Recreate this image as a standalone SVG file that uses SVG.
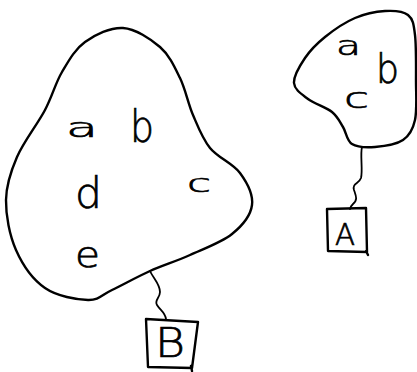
<svg xmlns="http://www.w3.org/2000/svg" width="417" height="372" viewBox="0 0 417 372">
<style>
.ln{fill:none;stroke:#000;stroke-width:2.4;stroke-linecap:round;stroke-linejoin:round}
.wg{fill:none;stroke:#000;stroke-width:1.8;stroke-linecap:round;stroke-linejoin:round}
.t{font-family:"DejaVu Sans","Liberation Sans",sans-serif;font-weight:200;fill:#000;stroke:#000;stroke-width:0.7}
</style>
<rect width="417" height="372" fill="#fff"/>
<g id="set-big">
<path class="ln" d="M123,28 C135.5,28.8 150.5,38.7 160,47 C169.5,55.3 174.5,66.7 180,78 C185.5,89.3 188,103.3 193,115 C198,126.7 202.2,138.3 210,148 C217.8,157.7 233,163.5 240,173 C247,182.5 253.3,194.8 252,205 C250.7,215.2 242.3,225.7 232,234 C221.7,242.3 203.7,248.8 190,255 C176.3,261.2 163,265.2 150,271 C137,276.8 122.3,285.2 112,290 C101.7,294.8 99.2,300.3 88,300 C76.8,299.7 57,296.3 45,288 C33,279.7 22.5,264.7 16,250 C9.5,235.3 5.8,215.5 6,200 C6.2,184.5 10.5,172 17,157 C23.5,142 37.5,124.2 45,110 C52.5,95.8 55.3,83.3 62,72 C68.7,60.7 74.8,49.3 85,42 C95.2,34.7 110.5,27.2 123,28 Z"/>
<text class="t" x="66" y="137" font-size="27" textLength="32" lengthAdjust="spacingAndGlyphs">a</text>
<text class="t" x="130" y="142" font-size="44" textLength="24" lengthAdjust="spacingAndGlyphs">b</text>
<text class="t" x="75" y="208" font-size="43" textLength="27" lengthAdjust="spacingAndGlyphs">d</text>
<text class="t" x="187" y="192" font-size="25" textLength="24" lengthAdjust="spacingAndGlyphs">c</text>
<text class="t" x="75" y="267" font-size="36" textLength="25" lengthAdjust="spacingAndGlyphs">e</text>
</g>
<g id="set-small">
<path class="ln" d="M385,11 C393.8,10.5 403,11 408,15 C413,19 413.7,24.2 415,35 C416.3,45.8 416,65.8 416,80 C416,94.2 417.2,110 415,120 C412.8,130 409.7,135.5 403,140 C396.3,144.5 383.5,146.3 375,147 C366.5,147.7 357.3,147.3 352,144 C346.7,140.7 346.3,132.3 343,127 C339.7,121.7 337.8,116.7 332,112 C326.2,107.3 314.3,103.8 308,99 C301.7,94.2 294.5,89.8 294,83 C293.5,76.2 299.8,65.7 305,58 C310.2,50.3 316.7,43.7 325,37 C333.3,30.3 345,22.3 355,18 C365,13.7 376.2,11.5 385,11 Z"/>
<text class="t" x="336" y="55" font-size="27" textLength="25" lengthAdjust="spacingAndGlyphs">a</text>
<text class="t" x="376" y="83" font-size="40" textLength="23" lengthAdjust="spacingAndGlyphs">b</text>
<text class="t" x="344" y="108" font-size="29" textLength="25" lengthAdjust="spacingAndGlyphs">c</text>
</g>
<g id="box-A">
<path class="ln" d="M327,209 L366,208 L367,252 L328,251 Z M366,251 L368,255"/>
<text class="t" x="335" y="245" font-size="30" textLength="20" lengthAdjust="spacingAndGlyphs">A</text>
</g>
<g id="box-B">
<path class="ln" d="M146,319 L198,322 L192,368 L148,367 Z M191,366 L192,371"/>
<text class="t" x="155" y="357" font-size="41" textLength="30" lengthAdjust="spacingAndGlyphs">B</text>
</g>
<g id="connectors">
<path class="wg" d="M362,147 C360,155 363,170 361,178 C359,184 352,183 354,190 C356,196 358,200 353,204 C351,206 350,208 350,209"/>
<path class="wg" d="M150,271 C153,278 160,284 160,292 C160,298 154,300 157,305 C160,310 165,312 166,319"/>
</g>
</svg>
